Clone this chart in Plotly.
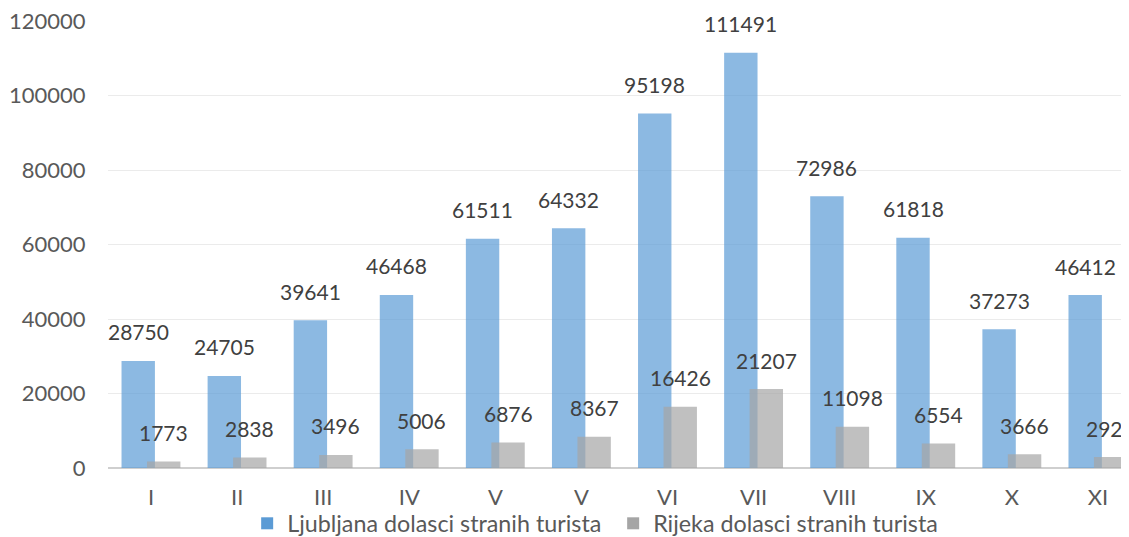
import plotly.graph_objects as go

months = ["I", "II", "III", "IV", "V", "V", "VI", "VII", "VIII", "IX", "X", "XI"]
ljubljana = [28750, 24705, 39641, 46468, 61511, 64332, 95198, 111491, 72986, 61818, 37273, 46412]
rijeka = [1773, 2838, 3496, 5006, 6876, 8367, 16426, 21207, 11098, 6554, 3666, 2926]
name_lj = "Ljubljana dolasci stranih turista"
name_ri = "Rijeka dolasci stranih turista"

FONT = "Lato, 'Open Sans', sans-serif"
xpos = list(range(len(months)))
W = 0.388
OFF_B = -0.343
OFF_G = -0.047

fig = go.Figure()
fig.add_trace(go.Bar(x=xpos, y=ljubljana, name=name_lj, width=W, offset=OFF_B,
                     marker=dict(color="#5B9BD5", opacity=0.7, line=dict(width=0))))
fig.add_trace(go.Bar(x=xpos, y=rijeka, name=name_ri, width=W, offset=OFF_G,
                     marker=dict(color="#A5A5A5", opacity=0.7, line=dict(width=0))))

ann = []
for i, v in enumerate(ljubljana):
    ann.append(dict(x=i + OFF_B + W / 2, y=v, text=str(v), showarrow=False,
                    yshift=29, yanchor="middle", xanchor="center",
                    font=dict(family=FONT, size=21, color="#404040")))
for i, v in enumerate(rijeka):
    ann.append(dict(x=i + OFF_G + W / 2, y=v, text=str(v), showarrow=False,
                    yshift=29, yanchor="middle", xanchor="center",
                    font=dict(family=FONT, size=21, color="#404040")))

# the page body has an 8px default margin, so the figure is sized to end at the window edge
fig.update_layout(
    width=1121, height=529,
    barmode="overlay",
    plot_bgcolor="white", paper_bgcolor="white",
    margin=dict(l=100, r=0, t=13, b=69, autoexpand=False),
    font=dict(family=FONT, size=21, color="#595959"),
    annotations=ann,
    showlegend=True,
    legend=dict(orientation="h", x=0.1363, xanchor="left", y=-0.1245, yanchor="middle",
                bgcolor="rgba(0,0,0,0)", entrywidth=321, entrywidthmode="pixels",
                font=dict(family=FONT, size=23.3, color="#595959"),
                itemsizing="constant", traceorder="normal"),
)
fig.update_xaxes(range=[-0.5, 11.36], tickvals=xpos, ticktext=months,
                 showgrid=False, zeroline=False, showline=False,
                 ticks="outside", ticklen=10, tickcolor="rgba(0,0,0,0)",
                 tickfont=dict(family=FONT, size=22, color="#595959"))
fig.update_yaxes(range=[0, 120000], dtick=20000, showgrid=True, gridcolor="#EBEBEB",
                 gridwidth=1, zeroline=True, zerolinecolor="#CFCFCF", zerolinewidth=2,
                 tickformat="d", ticks="outside", ticklen=17, tickcolor="rgba(0,0,0,0)",
                 ticklabeloverflow="allow",
                 tickfont=dict(family=FONT, size=22, color="#595959"))

fig.write_html("out.html")
